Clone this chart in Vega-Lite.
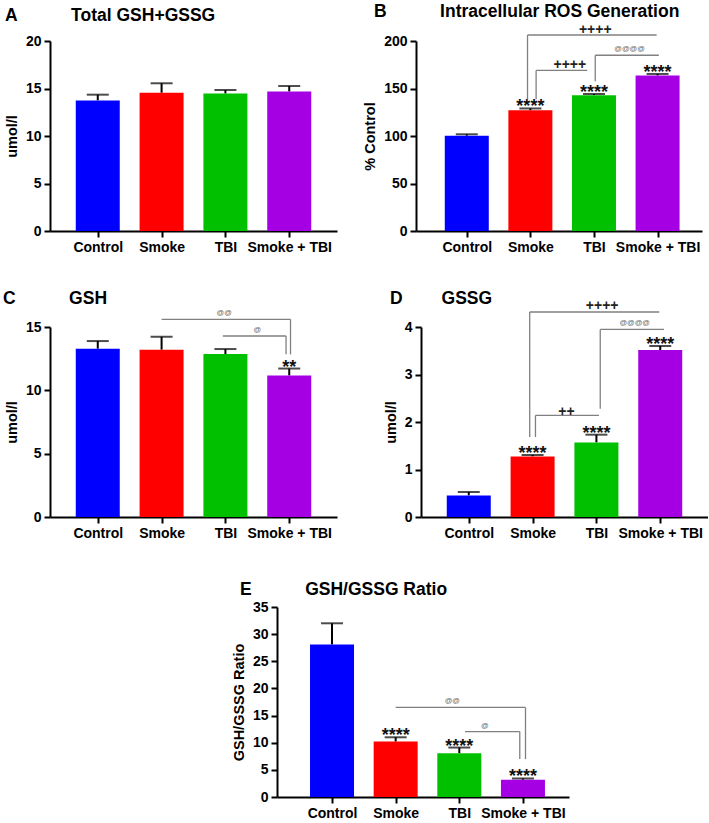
{
  "$schema": "https://vega.github.io/schema/vega-lite/v6.json",
  "padding": {"top": 3, "left": 3, "right": 0, "bottom": 0},
  "background": "white",
  "config": {
    "font": "Liberation Sans",
    "view": {"stroke": null},
    "axis": {"domainColor": "black", "domainWidth": 2, "tickColor": "black", "tickWidth": 2, "tickSize": 6, "labelFontSize": 14, "labelFontWeight": "bold", "labelColor": "black", "titleFontSize": 14.5, "titleFontWeight": "bold", "titleColor": "black", "grid": false, "titlePadding": 6, "labelPadding": 3},
    "title": {"fontSize": 17.5, "fontWeight": "bold", "anchor": "start", "frame": "group", "color": "black", "offset": 12}
  },
  "datasets": {
    "A": [
      {"x": 1, "g": "Control", "y": 13.75, "e": 14.35, "sig": ""},
      {"x": 2, "g": "Smoke", "y": 14.55, "e": 15.55, "sig": ""},
      {"x": 3, "g": "TBI", "y": 14.47, "e": 14.84, "sig": ""},
      {"x": 4, "g": "Smoke + TBI", "y": 14.68, "e": 15.26, "sig": ""}
    ],
    "B": [
      {"x": 1, "g": "Control", "y": 100.3, "e": 101.8, "sig": ""},
      {"x": 2, "g": "Smoke", "y": 127.0, "e": 129.0, "sig": "****"},
      {"x": 3, "g": "TBI", "y": 143.0, "e": 144.2, "sig": "****"},
      {"x": 4, "g": "Smoke + TBI", "y": 163.7, "e": 165.3, "sig": "****"}
    ],
    "Bh": [
      {"x": 1.955, "x2": 3.985, "y": 206.3},
      {"x": 3.02, "x2": 4.02, "y": 185},
      {"x": 2.09, "x2": 2.894, "y": 169}
    ],
    "Bv": [
      {"x": 1.955, "y": 206.3, "y2": 138.6},
      {"x": 3.02, "y": 185, "y2": 157.6},
      {"x": 2.09, "y": 169, "y2": 138.6}
    ],
    "Bp": [
      {"x": 3.02, "y": 206.3, "t": "++++"},
      {"x": 2.62, "y": 169, "t": "++++"}
    ],
    "Ba": [
      {"x": 3.56, "y": 185, "t": "@@@@"}
    ],
    "C": [
      {"x": 1, "g": "Control", "y": 13.29, "e": 13.89, "sig": ""},
      {"x": 2, "g": "Smoke", "y": 13.21, "e": 14.23, "sig": ""},
      {"x": 3, "g": "TBI", "y": 12.87, "e": 13.26, "sig": ""},
      {"x": 4, "g": "Smoke + TBI", "y": 11.17, "e": 11.72, "sig": "**"}
    ],
    "Ch": [
      {"x": 2.0, "x2": 4.02, "y": 15.6},
      {"x": 2.96, "x2": 3.95, "y": 14.29}
    ],
    "Cv": [
      {"x": 4.02, "y": 15.6, "y2": 12.84},
      {"x": 3.95, "y": 14.29, "y2": 12.84}
    ],
    "Ca": [
      {"x": 2.98, "y": 15.6, "t": "@@"},
      {"x": 3.5, "y": 14.29, "t": "@"}
    ],
    "D": [
      {"x": 1, "g": "Control", "y": 0.455, "e": 0.526, "sig": ""},
      {"x": 2, "g": "Smoke", "y": 1.276, "e": 1.305, "sig": "****"},
      {"x": 3, "g": "TBI", "y": 1.571, "e": 1.733, "sig": "****"},
      {"x": 4, "g": "Smoke + TBI", "y": 3.516, "e": 3.6, "sig": "****"}
    ],
    "Dh": [
      {"x": 1.955, "x2": 3.985, "y": 4.316},
      {"x": 3.06, "x2": 4.06, "y": 3.95},
      {"x": 2.045, "x2": 3.04, "y": 2.14}
    ],
    "Dv": [
      {"x": 1.955, "y": 4.316, "y2": 1.684},
      {"x": 3.06, "y": 3.95, "y2": 2.28},
      {"x": 2.045, "y": 2.14, "y2": 1.684}
    ],
    "Dp": [
      {"x": 3.09, "y": 4.316, "t": "++++"},
      {"x": 2.53, "y": 2.1, "t": "++"}
    ],
    "Da": [
      {"x": 3.6, "y": 3.95, "t": "@@@@"}
    ],
    "E": [
      {"x": 1, "g": "Control", "y": 28.09, "e": 32.0, "sig": ""},
      {"x": 2, "g": "Smoke", "y": 10.21, "e": 11.0, "sig": "****"},
      {"x": 3, "g": "TBI", "y": 8.08, "e": 9.11, "sig": "****"},
      {"x": 4, "g": "Smoke + TBI", "y": 3.18, "e": 3.42, "sig": "****"}
    ],
    "Eh": [
      {"x": 2.0, "x2": 4.04, "y": 16.5},
      {"x": 3.09, "x2": 3.95, "y": 12.05}
    ],
    "Ev": [
      {"x": 4.04, "y": 16.5, "y2": 6.98},
      {"x": 3.95, "y": 12.05, "y2": 6.98}
    ],
    "Ea": [
      {"x": 2.89, "y": 16.5, "t": "@@"},
      {"x": 3.4, "y": 12.05, "t": "@"}
    ]
  },
  "vconcat": [
    {
      "vconcat": [
        {
          "hconcat": [
            {
              "width": 287, "height": 190,
              "title": {"text": "A\u00a0\u00a0\u00a0\u00a0\u00a0\u00a0\u00a0\u00a0\u00a0\u00a0\u00a0Total GSH+GSSG", "dx": -45, "offset": 10},
              "data": {"name": "A"},
              "encoding": {
                "x": {"field": "x", "type": "quantitative", "scale": {"domain": [0.33, 4.67], "nice": false, "zero": false}, "axis": {"values": [1, 2, 3, 4], "labelExpr": "['','Control','Smoke','TBI','Smoke + TBI'][datum.value]", "title": null}},
                "y": {"field": "y", "type": "quantitative", "scale": {"domain": [0, 20], "nice": false}, "axis": {"values": [0, 5, 10, 15, 20], "title": "umol/l"}}
              },
              "layer": [
                {"mark": {"type": "rule", "strokeWidth": 2, "color": "black"}, "encoding": {"y2": {"field": "e"}}},
                {"mark": {"type": "tick", "orient": "horizontal", "size": 22, "thickness": 2, "color": "black"}, "encoding": {"y": {"field": "e", "type": "quantitative"}}},
                {"mark": {"type": "bar", "width": 44}, "encoding": {"color": {"field": "g", "type": "nominal", "scale": {"domain": ["Control", "Smoke", "TBI", "Smoke + TBI"], "range": ["#0000FF", "#FF0000", "#00C000", "#A500E4"]}, "legend": null}}}
              ]
            },
            {
              "width": 286, "height": 190,
              "title": {"text": "B\u00a0\u00a0\u00a0\u00a0\u00a0\u00a0\u00a0\u00a0\u00a0\u00a0\u00a0Intracellular ROS Generation", "dx": -42, "offset": 2},
              "encoding": {
                "x": {"field": "x", "type": "quantitative", "scale": {"domain": [0.28, 4.62], "nice": false, "zero": false}, "axis": {"values": [1, 2, 3, 4], "labelExpr": "['','Control','Smoke','TBI','Smoke + TBI'][datum.value]", "title": null}},
                "y": {"field": "y", "type": "quantitative", "scale": {"domain": [0, 200], "nice": false}, "axis": {"values": [0, 50, 100, 150, 200], "title": "% Control"}}
              },
              "layer": [
                {"data": {"name": "B"}, "mark": {"type": "rule", "strokeWidth": 2, "color": "black"}, "encoding": {"y2": {"field": "e"}}},
                {"data": {"name": "B"}, "mark": {"type": "tick", "orient": "horizontal", "size": 22, "thickness": 2, "color": "black"}, "encoding": {"y": {"field": "e", "type": "quantitative"}}},
                {"data": {"name": "B"}, "mark": {"type": "bar", "width": 44}, "encoding": {"color": {"field": "g", "type": "nominal", "scale": {"domain": ["Control", "Smoke", "TBI", "Smoke + TBI"], "range": ["#0000FF", "#FF0000", "#00C000", "#A500E4"]}, "legend": null}}},
                {"data": {"name": "B"}, "mark": {"type": "text", "fontSize": 18, "fontWeight": "bold", "baseline": "alphabetic", "dy": 4, "color": "#111"}, "encoding": {"y": {"field": "e", "type": "quantitative"}, "text": {"field": "sig"}}},
                {"data": {"name": "Bh"}, "mark": {"type": "rule", "strokeWidth": 1.3, "color": "#808080"}, "encoding": {"x2": {"field": "x2"}}},
                {"data": {"name": "Bv"}, "mark": {"type": "rule", "strokeWidth": 1.3, "color": "#808080"}, "encoding": {"y2": {"field": "y2"}}},
                {"data": {"name": "Bp"}, "mark": {"type": "text", "fontSize": 14, "fontWeight": "bold", "baseline": "alphabetic", "dy": -1.5, "color": "#222"}, "encoding": {"text": {"field": "t"}}},
                {"data": {"name": "Ba"}, "mark": {"type": "text", "fontSize": 7.5, "baseline": "alphabetic", "dy": -4, "color": "#666"}, "encoding": {"text": {"field": "t"}}}
              ]
            }
          ],
          "spacing": 25
        },
        {
          "hconcat": [
            {
              "width": 287, "height": 190,
              "title": {"text": "C\u00a0\u00a0\u00a0\u00a0\u00a0\u00a0\u00a0\u00a0\u00a0\u00a0\u00a0GSH", "dx": -47, "offset": 2},
              "encoding": {
                "x": {"field": "x", "type": "quantitative", "scale": {"domain": [0.33, 4.67], "nice": false, "zero": false}, "axis": {"values": [1, 2, 3, 4], "labelExpr": "['','Control','Smoke','TBI','Smoke + TBI'][datum.value]", "title": null}},
                "y": {"field": "y", "type": "quantitative", "scale": {"domain": [0, 15], "nice": false}, "axis": {"values": [0, 5, 10, 15], "title": "umol/l"}}
              },
              "layer": [
                {"data": {"name": "C"}, "mark": {"type": "rule", "strokeWidth": 2, "color": "black"}, "encoding": {"y2": {"field": "e"}}},
                {"data": {"name": "C"}, "mark": {"type": "tick", "orient": "horizontal", "size": 22, "thickness": 2, "color": "black"}, "encoding": {"y": {"field": "e", "type": "quantitative"}}},
                {"data": {"name": "C"}, "mark": {"type": "bar", "width": 44}, "encoding": {"color": {"field": "g", "type": "nominal", "scale": {"domain": ["Control", "Smoke", "TBI", "Smoke + TBI"], "range": ["#0000FF", "#FF0000", "#00C000", "#A500E4"]}, "legend": null}}},
                {"data": {"name": "C"}, "mark": {"type": "text", "fontSize": 18, "fontWeight": "bold", "baseline": "alphabetic", "dy": 4, "color": "#111"}, "encoding": {"y": {"field": "e", "type": "quantitative"}, "text": {"field": "sig"}}},
                {"data": {"name": "Ch"}, "mark": {"type": "rule", "strokeWidth": 1.3, "color": "#808080"}, "encoding": {"x2": {"field": "x2"}}},
                {"data": {"name": "Cv"}, "mark": {"type": "rule", "strokeWidth": 1.3, "color": "#808080"}, "encoding": {"y2": {"field": "y2"}}},
                {"data": {"name": "Ca"}, "mark": {"type": "text", "fontSize": 7.5, "baseline": "alphabetic", "dy": -4, "color": "#666"}, "encoding": {"text": {"field": "t"}}}
              ]
            },
            {
              "width": 287, "height": 190,
              "title": {"text": "D\u00a0\u00a0\u00a0\u00a0\u00a0\u00a0\u00a0\u00a0GSSG", "dx": -31, "offset": -8},
              "encoding": {
                "x": {"field": "x", "type": "quantitative", "scale": {"domain": [0.33, 4.67], "nice": false, "zero": false}, "axis": {"values": [1, 2, 3, 4], "labelExpr": "['','Control','Smoke','TBI','Smoke + TBI'][datum.value]", "title": null}},
                "y": {"field": "y", "type": "quantitative", "scale": {"domain": [0, 4], "nice": false}, "axis": {"values": [0, 1, 2, 3, 4], "title": "umol/l"}}
              },
              "layer": [
                {"data": {"name": "D"}, "mark": {"type": "rule", "strokeWidth": 2, "color": "black"}, "encoding": {"y2": {"field": "e"}}},
                {"data": {"name": "D"}, "mark": {"type": "tick", "orient": "horizontal", "size": 22, "thickness": 2, "color": "black"}, "encoding": {"y": {"field": "e", "type": "quantitative"}}},
                {"data": {"name": "D"}, "mark": {"type": "bar", "width": 44}, "encoding": {"color": {"field": "g", "type": "nominal", "scale": {"domain": ["Control", "Smoke", "TBI", "Smoke + TBI"], "range": ["#0000FF", "#FF0000", "#00C000", "#A500E4"]}, "legend": null}}},
                {"data": {"name": "D"}, "mark": {"type": "text", "fontSize": 18, "fontWeight": "bold", "baseline": "alphabetic", "dy": 4, "color": "#111"}, "encoding": {"y": {"field": "e", "type": "quantitative"}, "text": {"field": "sig"}}},
                {"data": {"name": "Dh"}, "mark": {"type": "rule", "strokeWidth": 1.3, "color": "#808080"}, "encoding": {"x2": {"field": "x2"}}},
                {"data": {"name": "Dv"}, "mark": {"type": "rule", "strokeWidth": 1.3, "color": "#808080"}, "encoding": {"y2": {"field": "y2"}}},
                {"data": {"name": "Dp"}, "mark": {"type": "text", "fontSize": 14, "fontWeight": "bold", "baseline": "alphabetic", "dy": -1.5, "color": "#222"}, "encoding": {"text": {"field": "t"}}},
                {"data": {"name": "Da"}, "mark": {"type": "text", "fontSize": 7.5, "baseline": "alphabetic", "dy": -4, "color": "#666"}, "encoding": {"text": {"field": "t"}}}
              ]
            }
          ],
          "spacing": 46
        }
      ],
      "spacing": 35
    },
    {
      "hconcat": [
        {
          "width": 155, "height": 10,
          "data": {"values": []},
          "mark": {"type": "point", "opacity": 0}
        },
        {
          "width": 292, "height": 190,
          "title": {"text": "E\u00a0\u00a0\u00a0\u00a0\u00a0\u00a0\u00a0\u00a0\u00a0\u00a0\u00a0GSH/GSSG Ratio", "dx": -37, "offset": 2},
          "encoding": {
            "x": {"field": "x", "type": "quantitative", "scale": {"domain": [0.214, 4.645], "nice": false, "zero": false}, "axis": {"values": [1, 2, 3, 4], "labelExpr": "['','Control','Smoke','TBI','Smoke + TBI'][datum.value]", "title": null}},
            "y": {"field": "y", "type": "quantitative", "scale": {"domain": [0, 35], "nice": false}, "axis": {"values": [0, 5, 10, 15, 20, 25, 30, 35], "title": "GSH/GSSG Ratio"}}
          },
          "layer": [
            {"data": {"name": "E"}, "mark": {"type": "rule", "strokeWidth": 2, "color": "black"}, "encoding": {"y2": {"field": "e"}}},
            {"data": {"name": "E"}, "mark": {"type": "tick", "orient": "horizontal", "size": 22, "thickness": 2, "color": "black"}, "encoding": {"y": {"field": "e", "type": "quantitative"}}},
            {"data": {"name": "E"}, "mark": {"type": "bar", "width": 44}, "encoding": {"color": {"field": "g", "type": "nominal", "scale": {"domain": ["Control", "Smoke", "TBI", "Smoke + TBI"], "range": ["#0000FF", "#FF0000", "#00C000", "#A500E4"]}, "legend": null}}},
            {"data": {"name": "E"}, "mark": {"type": "text", "fontSize": 18, "fontWeight": "bold", "baseline": "alphabetic", "dy": 4, "color": "#111"}, "encoding": {"y": {"field": "e", "type": "quantitative"}, "text": {"field": "sig"}}},
            {"data": {"name": "Eh"}, "mark": {"type": "rule", "strokeWidth": 1.3, "color": "#808080"}, "encoding": {"x2": {"field": "x2"}}},
            {"data": {"name": "Ev"}, "mark": {"type": "rule", "strokeWidth": 1.3, "color": "#808080"}, "encoding": {"y2": {"field": "y2"}}},
            {"data": {"name": "Ea"}, "mark": {"type": "text", "fontSize": 7.5, "baseline": "alphabetic", "dy": -4, "color": "#666"}, "encoding": {"text": {"field": "t"}}}
          ]
        }
      ],
      "spacing": 26
    }
  ],
  "spacing": 40
}
